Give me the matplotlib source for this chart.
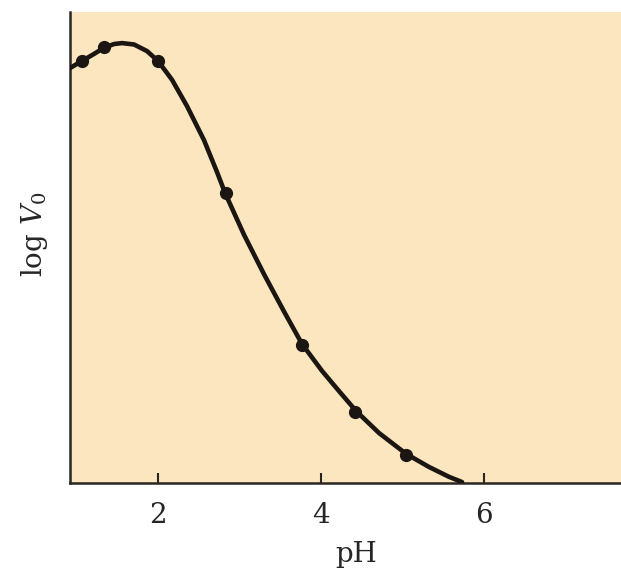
import matplotlib
matplotlib.use("Agg")
import matplotlib.pyplot as plt

# Smooth fitted curve
curve_ph = [0.920, 1.067, 1.215, 1.337, 1.460, 1.558, 1.706, 1.865, 2.000, 2.172, 2.356,
            2.564, 2.724, 2.822, 3.055, 3.301, 3.546, 3.767, 4.012, 4.221, 4.429, 4.712,
            5.043, 5.325, 5.571, 5.730]
curve_logv = [0.881, 0.896, 0.911, 0.924, 0.932, 0.934, 0.931, 0.917, 0.896, 0.856, 0.800,
              0.728, 0.660, 0.616, 0.527, 0.443, 0.364, 0.295, 0.238, 0.195, 0.153, 0.106,
              0.062, 0.034, 0.013, 0.002]

# Measured data points
point_ph = [1.067, 1.337, 2.0, 2.828, 3.767, 4.417, 5.043]
point_logv = [0.896, 0.926, 0.896, 0.615, 0.293, 0.151, 0.059]

xticks = [2, 4, 6]
xtick_labels = ["2", "4", "6"]

plt.rcParams["mathtext.fontset"] = "dejavuserif"

fig = plt.figure(figsize=(6.21, 5.75), dpi=100)
ax = fig.add_axes([70/621, 92/575, 551/621, 471/575])
ax.set_facecolor("#FCE6BF")

ax.plot(curve_ph, curve_logv, color="#1c1612", lw=3.3, solid_capstyle="round",
        solid_joinstyle="round", zorder=3)
ax.plot(point_ph, point_logv, "o", color="#1c1612", ms=8.5, zorder=4)

ax.set_xlim(0.92, 7.68)
ax.set_ylim(0, 1)

for s in ["top", "right"]:
    ax.spines[s].set_visible(False)
for s in ["left", "bottom"]:
    ax.spines[s].set_linewidth(1.8)
    ax.spines[s].set_color("#2a2622")

ax.set_xticks(xticks)
ax.set_xticklabels(xtick_labels, family="DejaVu Serif", fontsize=20, color="#262626")
ax.tick_params(axis="x", direction="in", length=7, width=1.5, color="#2a2622", pad=14)
ax.set_yticks([])

ax.set_xlabel("pH", family="DejaVu Serif", fontsize=20, color="#262626")
ax.xaxis.set_label_coords(0.519, -0.123)
ax.set_ylabel(r"log $V_0$", family="DejaVu Serif", fontsize=20, color="#262626")
ax.yaxis.set_label_coords(-0.036, 0.529)

fig.savefig("out.png", dpi=100)
